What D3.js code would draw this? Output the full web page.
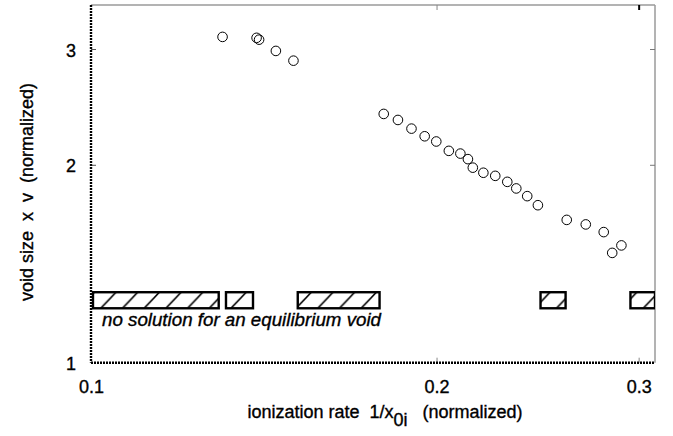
<!DOCTYPE html>
<html>
<head>
<meta charset="utf-8">
<script src="https://cdn.jsdelivr.net/npm/d3@7"></script>
<style>
  html, body { margin: 0; padding: 0; background: #fff; }
  svg { display: block; font-family: "Liberation Sans", Arial, Helvetica, sans-serif; }
  text { stroke: #000; stroke-width: 0.35px; fill: #000; }
</style>
</head>
<body>
<svg id="chart" width="673" height="436"></svg>
<script>
// ---- data ----
const ionizationRate = [0.1302, 0.1394, 0.1401, 0.1449, 0.1501, 0.1799, 0.1851, 0.1902, 0.1953, 0.1999,
  0.2050, 0.2098, 0.2130, 0.2151, 0.2197, 0.2250, 0.2305, 0.2347, 0.2399, 0.2451,
  0.2597, 0.2698, 0.2797, 0.2898, 0.2845];
const voidSize = [3.13, 3.12, 3.10, 2.98, 2.88, 2.39, 2.34, 2.27, 2.21, 2.17,
  2.10, 2.08, 2.04, 1.98, 1.945, 1.924, 1.884, 1.841, 1.792, 1.736,
  1.649, 1.623, 1.580, 1.508, 1.469];
// ranges of ionization rate with no equilibrium solution
const noSolutionStart = [0.1004, 0.1311, 0.1514, 0.2464, 0.2951];
const noSolutionEnd   = [0.1292, 0.1384, 0.1784, 0.2591, 0.3100];
const noSolutionBand = [1.21, 1.28];
const xTicks = [0.1, 0.2, 0.3];
const xTickLabels = ["0.1", "0.2", "0.3"];
const yTicks = [1, 2, 3];
const yTickLabels = ["1", "2", "3"];
const annotation = "no solution for an equilibrium void";

// ---- layout ----
const svg = d3.select("#chart");
const L = 91, R = 655, T = 5, B = 362.7;
const x = d3.scaleLog().domain([0.1, 0.31]).range([L, R]);
const y = d3.scaleLog().domain([1, 3.5]).range([B, T]);
const FONT = 18;

// hatch pattern
const bandTop = y(noSolutionBand[1]), bandBot = y(noSolutionBand[0]);
const bandH = bandBot - bandTop;
const defs = svg.append("defs");
const pat = defs.append("pattern")
  .attr("id", "hatch").attr("patternUnits", "userSpaceOnUse")
  .attr("x", 14).attr("y", bandTop)
  .attr("width", 21.7).attr("height", bandH);
pat.append("line")
  .attr("x1", 0).attr("y1", bandH).attr("x2", bandH * 0.95).attr("y2", 0)
  .attr("stroke", "#000").attr("stroke-width", 1.6);
pat.append("line")
  .attr("x1", -21.7).attr("y1", bandH).attr("x2", -21.7 + bandH * 0.95).attr("y2", 0)
  .attr("stroke", "#000").attr("stroke-width", 1.6);
defs.append("clipPath").attr("id", "plotclip").append("rect")
  .attr("x", L).attr("y", T).attr("width", R - L).attr("height", B - T);

// frame: top and right gray
svg.append("line").attr("x1", L).attr("x2", R).attr("y1", T).attr("y2", T)
  .attr("stroke", "#9a9a9a").attr("stroke-width", 1.5);
svg.append("line").attr("x1", R).attr("x2", R).attr("y1", T).attr("y2", B)
  .attr("stroke", "#9a9a9a").attr("stroke-width", 1.5);

// no-solution boxes
const bands = svg.append("g").attr("clip-path", "url(#plotclip)");
bands.selectAll("rect.band").data(noSolutionStart.map((s, i) => [s, noSolutionEnd[i]]))
  .join("rect").attr("class", "band")
  .attr("x", d => x(d[0])).attr("width", d => x(d[1]) - x(d[0]))
  .attr("y", bandTop).attr("height", bandH)
  .attr("fill", "url(#hatch)").attr("stroke", "#000").attr("stroke-width", 2.4);

svg.append("text")
  .attr("x", x(noSolutionStart[0]) + 9).attr("y", bandBot + 18)
  .attr("font-size", FONT).attr("font-style", "italic")
  .attr("textLength", 279).attr("lengthAdjust", "spacingAndGlyphs")
  .text(annotation);

// axes
const xAxisBottom = d3.axisBottom(x).tickValues(xTicks).tickSize(-5).tickFormat((d, i) => xTickLabels[i]).tickPadding(18);
const gx = svg.append("g").attr("transform", `translate(0,${B})`).call(xAxisBottom);
gx.select(".domain").remove();
gx.selectAll(".tick line").attr("stroke", "#888").attr("stroke-width", 1);
gx.selectAll(".tick text").attr("font-size", FONT).attr("fill", "#000").attr("font-family", null);
gx.selectAll(".tick").filter(d => d === 0.1).select("line").remove();

const xAxisTop = d3.axisTop(x).tickValues(xTicks.filter(d => d > 0.1)).tickSize(-5).tickFormat("");
const gxt = svg.append("g").attr("transform", `translate(0,${T})`).call(xAxisTop);
gxt.select(".domain").remove();
gxt.selectAll(".tick line").attr("stroke", (d) => d === 0.3 ? "#000" : "#888").attr("stroke-width", d => d === 0.3 ? 2 : 1);

const yAxisLeft = d3.axisLeft(y).tickValues(yTicks).tickSize(-5).tickFormat((d, i) => yTickLabels[i]).tickPadding(15);
const gy = svg.append("g").attr("transform", `translate(${L},0)`).call(yAxisLeft);
gy.select(".domain").remove();
gy.selectAll(".tick line").attr("stroke", "#555").attr("stroke-width", 1);
gy.selectAll(".tick text").attr("font-size", FONT).attr("fill", "#000").attr("font-family", null).attr("dy", "0.4em");
gy.selectAll(".tick").filter(d => d === 1).select("line").remove();

const yAxisRight = d3.axisRight(y).tickValues(yTicks.filter(d => d > 1)).tickSize(-5).tickFormat("");
const gyr = svg.append("g").attr("transform", `translate(${R},0)`).call(yAxisRight);
gyr.select(".domain").remove();
gyr.selectAll(".tick line").attr("stroke", "#777").attr("stroke-width", 1);

// dotted left & bottom axis lines
svg.append("line").attr("x1", L).attr("x2", R).attr("y1", B).attr("y2", B)
  .attr("stroke", "#000").attr("stroke-width", 2.4).attr("stroke-dasharray", "2 1");
svg.append("line").attr("x1", L).attr("x2", L).attr("y1", T).attr("y2", B)
  .attr("stroke", "#000").attr("stroke-width", 2.4).attr("stroke-dasharray", "2 1");

// points
svg.append("g").selectAll("circle").data(ionizationRate.map((r, i) => [r, voidSize[i]]))
  .join("circle")
  .attr("cx", d => x(d[0])).attr("cy", d => y(d[1])).attr("r", 4.8)
  .attr("fill", "none").attr("stroke", "#000").attr("stroke-width", 1);

// axis titles
const xt = svg.append("text").attr("x", 385).attr("y", 418).attr("font-size", FONT)
  .attr("text-anchor", "middle").style("white-space", "pre");
xt.append("tspan").text("ionization rate  1/x");
xt.append("tspan").attr("dy", 8).text("0i");
xt.append("tspan").attr("dy", -8).text("   (normalized)");

svg.append("text").attr("transform", "translate(33,192) rotate(-90)")
  .attr("font-size", FONT).attr("text-anchor", "middle").style("white-space", "pre")
  .text("void size  x  v  (normalized)");
</script>
</body>
</html>
